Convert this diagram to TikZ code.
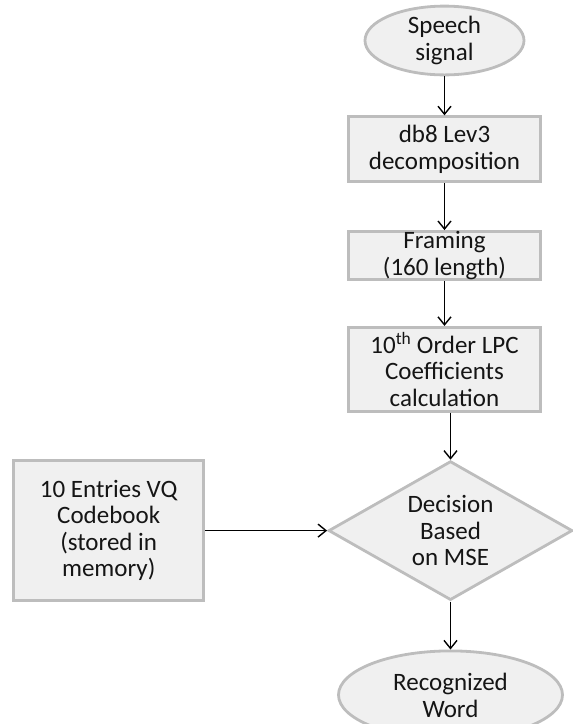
\documentclass[tikz,border=0pt]{standalone}
\usepackage{fontspec}
\setmainfont{Carlito}
\usetikzlibrary{arrows.meta,positioning,shapes.geometric}
\definecolor{stagefill}{HTML}{F0F0F0}
\definecolor{stageline}{HTML}{BDBDBD}
\definecolor{textdark}{HTML}{151515}
\tikzset{
  terminal/.style={
    ellipse,
    draw=stageline,
    fill=stagefill,
    line width=2.8pt,
    inner sep=0pt,
    align=center,
    text=textdark,
    font=\fontsize{25}{27}\selectfont,
  },
  stage/.style={
    rectangle,
    minimum width=192pt,
    draw=stageline,
    fill=stagefill,
    line width=2.8pt,
    inner sep=0pt,
    align=center,
    text=textdark,
    font=\fontsize{25}{26.5}\selectfont,
  },
  decision/.style={
    diamond,
    aspect=1.75,
    minimum width=244pt,
    minimum height=139pt,
    draw=stageline,
    fill=stagefill,
    line width=2.8pt,
    inner sep=0pt,
    align=center,
    text=textdark,
    font=\fontsize{25}{26.5}\selectfont,
  },
  flow/.style={
    -{Straight Barb[length=8pt,width=13pt]},
    line width=1.4pt,
    draw=black,
  },
}

\begin{document}
\begin{tikzpicture}
  \useasboundingbox (0,0) rectangle (573pt,-724pt);

  \node[terminal, minimum width=159pt, minimum height=65pt] (speech) at (444.5pt,-40.5pt) {
    Speech\\
    signal
  };
  \node[stage, minimum height=65pt, below=39pt of speech] (decomp) {
    db8 Lev3\\
    decomposition
  };
  \node[stage, minimum height=48pt, below=47pt of decomp] (framing) {
    Framing\\
    (160 length)
  };
  \node[stage, minimum height=84pt, below=45pt of framing] (lpc) {
    10\textsuperscript{th} Order LPC\\
    Coefficients\\
    calculation
  };

  \node[decision, below=47pt of lpc, xshift=6pt] (decide) {
    Decision\\
    Based\\
    on MSE
  };
  \node[stage, minimum width=190pt, minimum height=140pt, left=122pt of decide] (codebook) {
    10 Entries VQ\\
    Codebook\\
    (stored in\\
    memory)
  };
  \node[terminal, minimum width=224pt, minimum height=88pt, below=48pt of decide] (word) {
    Recognized\\
    Word
  };

  \draw[flow] (speech.south) -- (decomp.north);
  \draw[flow] (decomp.south) -- (framing.north);
  \draw[flow] (framing.south) -- (lpc.north);
  \draw[flow] (decide.north |- lpc.south) -- (decide.north);
  \draw[flow] (codebook.east) -- (decide.west);
  \draw[flow] (decide.south) -- (word.north);
\end{tikzpicture}
\end{document}
